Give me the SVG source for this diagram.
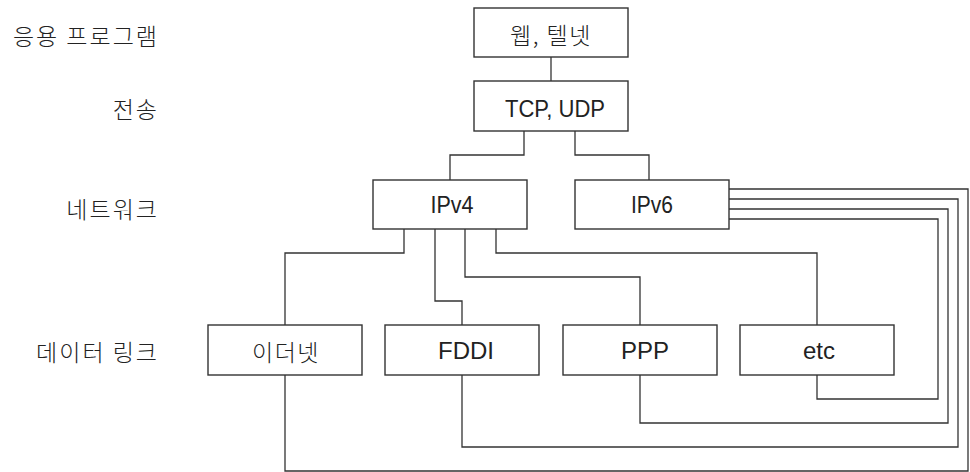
<svg xmlns="http://www.w3.org/2000/svg" width="970" height="472" viewBox="0 0 970 472">
  <style>
    .box { fill: #ffffff; stroke: #333333; stroke-width: 1.4; }
    .wire { fill: none; stroke: #333333; stroke-width: 1.3; }
    .ko { font-family: "Noto Sans CJK KR", "Noto Sans", sans-serif; font-size: 23px; font-weight: 300; fill: #222222; dominant-baseline: central; }
    .lat { font-family: "Liberation Sans", Arial, sans-serif; font-size: 24px; fill: #222222; text-anchor: middle; }
    .layer { text-anchor: end; letter-spacing: 2px; }
    .mid { text-anchor: middle; letter-spacing: 1.5px; }
  </style>
  <rect width="970" height="472" fill="#ffffff"/>

  <!-- layer names -->
  <g id="layer-labels">
    <text class="ko layer" x="159" y="35">응용 프로그램</text>
    <text class="ko layer" x="159" y="108">전송</text>
    <text class="ko layer" x="159" y="208">네트워크</text>
    <text class="ko layer" x="159" y="351">데이터 링크</text>
  </g>

  <!-- connectors -->
  <g id="connectors">
    <path class="wire" d="M551,57 V81"/>
    <path class="wire" d="M524,131 V155 H450 V180"/>
    <path class="wire" d="M575,131 V155 H649 V180"/>
    <path class="wire" d="M404,229 V253 H285 V325"/>
    <path class="wire" d="M435,229 V301 H462 V325"/>
    <path class="wire" d="M465,229 V277 H640 V325"/>
    <path class="wire" d="M496,229 V253 H817 V325"/>
    <path class="wire" d="M729,189 H968 V471 H285 V375"/>
    <path class="wire" d="M729,199 H958 V447 H462 V375"/>
    <path class="wire" d="M729,209 H948 V423 H640 V375"/>
    <path class="wire" d="M729,219 H938 V399 H817 V375"/>
  </g>

  <g id="app">
    <rect class="box" x="474" y="8" width="154" height="49"/>
    <text class="ko mid" x="551" y="34">웹, 텔넷</text>
  </g>
  <g id="transport">
    <rect class="box" x="474" y="81" width="154" height="50"/>
    <text class="lat" x="555" y="117" textLength="100" lengthAdjust="spacingAndGlyphs">TCP, UDP</text>
  </g>
  <g id="ipv4">
    <rect class="box" x="373" y="180" width="154" height="49"/>
    <text class="lat" x="452" y="213" textLength="43" lengthAdjust="spacingAndGlyphs">IPv4</text>
  </g>
  <g id="ipv6">
    <rect class="box" x="575" y="180" width="154" height="49"/>
    <text class="lat" x="652" y="213" textLength="42" lengthAdjust="spacingAndGlyphs">IPv6</text>
  </g>
  <g id="ethernet">
    <rect class="box" x="208" y="325" width="154" height="50"/>
    <text class="ko mid" x="286" y="351">이더넷</text>
  </g>
  <g id="fddi">
    <rect class="box" x="385" y="325" width="154" height="50"/>
    <text class="lat" x="466" y="359">FDDI</text>
  </g>
  <g id="ppp">
    <rect class="box" x="563" y="325" width="154" height="50"/>
    <text class="lat" x="645" y="359">PPP</text>
  </g>
  <g id="etc">
    <rect class="box" x="740" y="325" width="154" height="50"/>
    <text class="lat" x="819" y="359">etc</text>
  </g>
</svg>
